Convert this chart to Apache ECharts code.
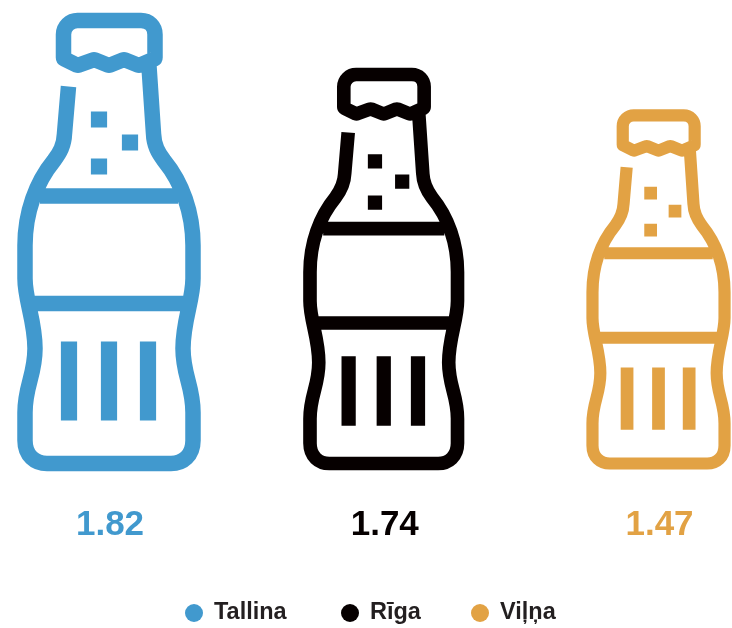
<!DOCTYPE html>
<html>
<head>
<meta charset="utf-8">
<style>html,body{margin:0;padding:0;background:#fff;overflow:hidden}#c{width:732px;height:628px}</style>
<script src="https://cdn.jsdelivr.net/npm/echarts@6/dist/echarts.min.js"></script>
</head>
<body>
<div id="c"></div>
<script>
const cities = ['Tallina', 'Rīga', 'Viļņa'];
const prices = [1.82, 1.74, 1.47];
const colors = ['#4199CE', '#060000', '#E2A244'];
const bottleScale = [1, 0.878, 0.786];
const legendLeft = [185, 341, 471];

// Invisible zero-length ends make the path's box square, so the symbol scales evenly.
const BOTTLE =
  'path://M-112.5 20L-112.5 20M330.5 463L330.5 463' +
  'M68.5 86L64.5 133C64 145 60 152 54 160C36 182 25 212 25 245V278' +
  'C25 300 35 320 35 348C35 375 25 385 25 412V440C25 455 35 463 47 463H171' +
  'C183 463 193 455 193 440V412C193 385 183 375 183 348C183 320 193 300 193 278V245' +
  'C193 212 182 182 164 160C158 152 154 145 153.5 133L149 66' +
  'M63.5 57V34C63.5 26 70 20 77.5 20H141C149 20 155 26 155 34V57' +
  'Q155 58 154 58.5L140 64.6Q139 65 138 64.6L125 59.4Q124 59 123 59.4L110 64.6Q109 65 108 64.6' +
  'L95 59.4Q94 59 93 59.4L79 64.6Q78 65 77 64.6L64.5 58.5Q63.5 58 63.5 57Z' +
  'M40 195.5H178M29 303H189' +
  'M98.65 118.65h.7v.7h-.7zM129.65 141.65h.7v.7h-.7zM98.65 165.65h.7v.7h-.7z' +
  'M68.65 348.65h.7v63.7h-.7zM108.65 348.65h.7v63.7h-.7zM147.65 348.65h.7v63.7h-.7z';
const BOX_H = 443, STROKE = 14;

const font = '"Liberation Sans", Helvetica, Arial, sans-serif';
const chart = echarts.init(document.getElementById('c'), null, { renderer: 'canvas' });

chart.setOption({
  animation: false,
  backgroundColor: '#fff',
  grid: { left: 109, right: 73.5, top: 10, bottom: 157.5 },
  xAxis: { type: 'category', data: cities, show: false, boundaryGap: false },
  yAxis: { type: 'value', min: 0, max: 2, show: false },
  legend: cities.map((name, i) => ({
    top: 601,
    left: legendLeft[i],
    padding: 0,
    itemWidth: 18,
    itemHeight: 18,
    textStyle: { fontFamily: font, fontWeight: 'bold', fontSize: 23.5, color: '#231F20', padding: [0, 0, 0, 6] },
    data: [{ name, icon: 'circle', itemStyle: { color: colors[i], borderWidth: 0 } }]
  })),
  series: cities.map((name, i) => {
    const s = bottleScale[i];
    return {
      name,
      type: 'pictorialBar',
      symbol: BOTTLE,
      symbolPosition: 'start',
      symbolSize: [BOX_H * s, BOX_H * s],
      barGap: '-100%',
      barWidth: 200,
      itemStyle: {
        color: 'transparent',
        borderColor: colors[i],
        borderWidth: STROKE,
        borderCap: 'butt',
        borderJoin: 'miter'
      },
      label: {
        show: true,
        position: 'bottom',
        distance: 37,
        offset: [1, 0],
        fontFamily: font,
        fontWeight: 'bold',
        fontSize: 35,
        color: colors[i],
        formatter: p => p.value.toFixed(2)
      },
      data: cities.map((c, j) => (j === i ? prices[i] : null))
    };
  })
});
</script>
</body>
</html>
